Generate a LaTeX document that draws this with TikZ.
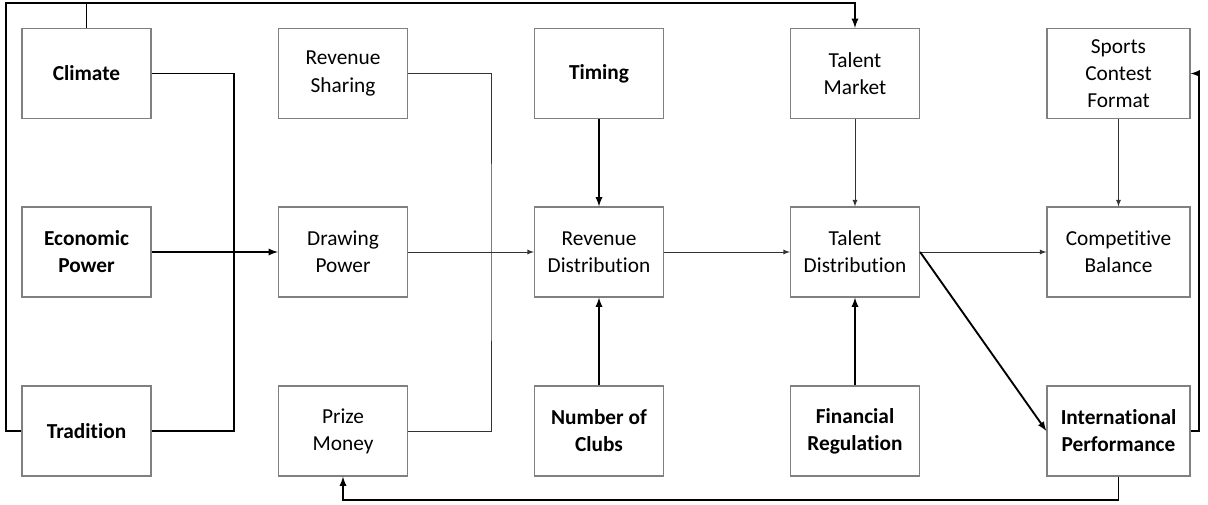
\documentclass[tikz,border=0pt]{standalone}
\usepackage{fontspec}
\setmainfont{Carlito}[Ligatures=NoCommon]
\usetikzlibrary{arrows}

\tikzset{
	factor/.style={draw=black!50, line width=0.9pt, minimum width=96.75pt, minimum height=67.5pt, align=center, inner sep=0pt, font=\fontsize{16}{20.3}\selectfont},
	wide/.style={minimum width=107.25pt},
	key/.style={font=\fontsize{16}{20.3}\selectfont\bfseries},
	thin/.style={line width=0.7pt, black!80},
	heavy/.style={line width=1.4pt, black}
}

\begin{document}
\begin{tikzpicture}[x=0.75pt,y=-0.75pt,>=latex]
	\useasboundingbox (0,0) rectangle (1208,504);

	% first column
	\node[factor,key] (climate) at (86.5,73.5) {Climate};
	\node[factor,key] (econ) at (86.5,252) {Economic\\Power};
	\node[factor,key] (tradition) at (86.5,431) {Tradition};

	% second column
	\node[factor] (revshare) at (343,73.5) {Revenue\\Sharing};
	\node[factor] (drawing) at (343,252) {Drawing\\Power};
	\node[factor] (prize) at (343,431) {Prize\\Money};

	% third column
	\node[factor,key] (timing) at (599,73.5) {Timing};
	\node[factor] (revdist) at (599,252) {Revenue\\Distribution};
	\node[factor,key] (clubs) at (599,431) {Number of\\Clubs};

	% fourth column
	\node[factor] (talentmkt) at (855,73.5) {Talent\\Market};
	\node[factor] (talentdist) at (855,252) {Talent\\Distribution};
	\node[factor,key] (finreg) at (855,431) {Financial\\Regulation};

	% last column
	\node[factor,wide] (format) at (1118.5,73.5) {Sports\\Contest\\Format};
	\node[factor,wide] (balance) at (1118.5,252) {Competitive\\Balance};
	\node[factor,wide,key] (intperf) at (1118.5,431) {International\\Performance};

	\coordinate (topL) at (6,3);
	\coordinate (jA) at (234,252);
	\coordinate (jB) at (491,252);
	\coordinate (rightR) at (1199,252);
	\coordinate (botB) at (700,500);

	\draw[heavy,->] (tradition.west) -| (topL) -| (talentmkt.north);
	\draw[heavy] (climate.north) -- (climate.north |- topL);
	\draw[heavy] (climate.east) -| (jA) |- (tradition.east);
	\draw[heavy,->] (econ) -- (drawing);

	\draw[thin] (revshare.east) -| (jB) |- (prize.east);
	\draw[thin,->] (drawing) -- (revdist);

	\draw[heavy,->] (timing) -- (revdist);
	\draw[heavy,->] (clubs) -- (revdist);
	\draw[thin,->] (revdist) -- (talentdist);

	\draw[thin,->] (talentmkt) -- (talentdist);
	\draw[heavy,->] (finreg) -- (talentdist);
	\draw[thin,->] (talentdist) -- (balance);
	\draw[heavy,->] (talentdist.east) -- (intperf.west);

	\draw[thin,->] (format) -- (balance);
	\draw[heavy,->] (intperf.east) -| (rightR) |- (format.east);
	\draw[heavy,->] (intperf.south) |- (botB) -| (prize.south);
\end{tikzpicture}
\end{document}
